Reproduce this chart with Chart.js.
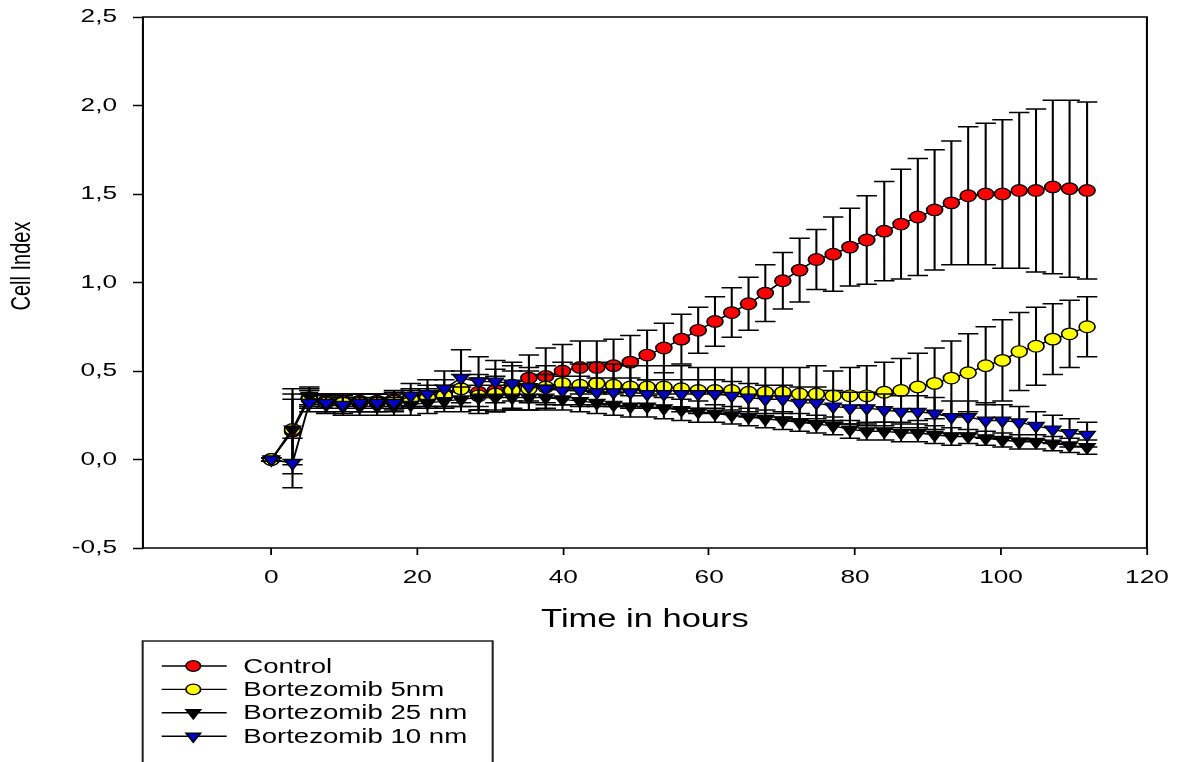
<!DOCTYPE html>
<html><head><meta charset="utf-8">
<script src="https://cdn.jsdelivr.net/npm/chart.js@4.4.1/dist/chart.umd.min.js"></script>
<style>html,body{margin:0;padding:0;background:#fff;overflow:hidden}canvas{display:block}</style>
</head><body>
<canvas id="c" width="856" height="762"></canvas>
<script>
// ---------------- data ----------------
const timeHours = [0, 2.9, 5.2, 7.5, 9.8, 12.1, 14.5, 16.8, 19.1, 21.4, 23.7, 26.0, 28.4, 30.7, 33.0, 35.3, 37.6, 39.9, 42.3, 44.6, 46.9, 49.2, 51.5, 53.8, 56.2, 58.5, 60.8, 63.1, 65.4, 67.7, 70.1, 72.4, 74.7, 77.0, 79.3, 81.6, 84.0, 86.3, 88.6, 90.9, 93.2, 95.5, 97.9, 100.2, 102.5, 104.8, 107.1, 109.4, 111.8];

const controlMean = [0.00, 0.16, 0.35, 0.33, 0.33, 0.33, 0.33, 0.34, 0.35, 0.36, 0.37, 0.40, 0.38, 0.39, 0.42, 0.46, 0.47, 0.50, 0.52, 0.52, 0.53, 0.55, 0.59, 0.63, 0.68, 0.73, 0.78, 0.83, 0.88, 0.94, 1.01, 1.07, 1.13, 1.16, 1.20, 1.24, 1.29, 1.33, 1.37, 1.41, 1.45, 1.49, 1.50, 1.50, 1.52, 1.52, 1.54, 1.53, 1.52];
const controlErr = [0.01, 0.24, 0.05, 0.04, 0.04, 0.04, 0.04, 0.05, 0.05, 0.06, 0.08, 0.10, 0.10, 0.12, 0.13, 0.13, 0.16, 0.15, 0.15, 0.15, 0.15, 0.15, 0.14, 0.14, 0.14, 0.13, 0.14, 0.14, 0.15, 0.16, 0.16, 0.18, 0.17, 0.21, 0.22, 0.25, 0.28, 0.31, 0.33, 0.34, 0.35, 0.39, 0.40, 0.42, 0.44, 0.46, 0.49, 0.50, 0.50];

const bz5Mean = [0.00, 0.17, 0.34, 0.32, 0.32, 0.32, 0.32, 0.33, 0.34, 0.35, 0.36, 0.40, 0.36, 0.37, 0.39, 0.40, 0.41, 0.43, 0.42, 0.43, 0.42, 0.41, 0.41, 0.41, 0.40, 0.39, 0.39, 0.39, 0.38, 0.38, 0.38, 0.37, 0.37, 0.36, 0.36, 0.36, 0.38, 0.39, 0.41, 0.43, 0.46, 0.49, 0.53, 0.56, 0.61, 0.64, 0.68, 0.71, 0.75];
const bz5Err = [0.01, 0.20, 0.05, 0.05, 0.05, 0.05, 0.05, 0.05, 0.05, 0.05, 0.06, 0.08, 0.10, 0.10, 0.11, 0.12, 0.12, 0.12, 0.12, 0.12, 0.12, 0.12, 0.12, 0.12, 0.13, 0.13, 0.13, 0.13, 0.14, 0.14, 0.14, 0.15, 0.16, 0.14, 0.16, 0.17, 0.17, 0.18, 0.19, 0.20, 0.21, 0.22, 0.22, 0.23, 0.22, 0.22, 0.20, 0.19, 0.17];

const bz25Mean = [0.00, 0.17, 0.36, 0.31, 0.30, 0.30, 0.30, 0.30, 0.31, 0.32, 0.33, 0.34, 0.35, 0.35, 0.35, 0.35, 0.35, 0.34, 0.33, 0.32, 0.31, 0.30, 0.30, 0.29, 0.28, 0.27, 0.26, 0.25, 0.24, 0.23, 0.22, 0.21, 0.20, 0.19, 0.17, 0.16, 0.16, 0.15, 0.15, 0.14, 0.13, 0.13, 0.12, 0.11, 0.10, 0.10, 0.09, 0.08, 0.07];
const bz25Err = [0.01, 0.17, 0.05, 0.05, 0.05, 0.05, 0.05, 0.05, 0.06, 0.06, 0.06, 0.07, 0.07, 0.07, 0.07, 0.07, 0.07, 0.06, 0.06, 0.06, 0.06, 0.06, 0.06, 0.06, 0.06, 0.06, 0.05, 0.05, 0.05, 0.05, 0.05, 0.05, 0.05, 0.05, 0.05, 0.05, 0.05, 0.05, 0.05, 0.05, 0.05, 0.04, 0.04, 0.04, 0.04, 0.04, 0.04, 0.04, 0.04];

const bz10Mean = [0.00, -0.02, 0.32, 0.32, 0.31, 0.32, 0.32, 0.32, 0.36, 0.37, 0.40, 0.46, 0.44, 0.44, 0.43, 0.41, 0.40, 0.39, 0.39, 0.38, 0.38, 0.38, 0.37, 0.37, 0.37, 0.37, 0.37, 0.36, 0.35, 0.34, 0.34, 0.32, 0.32, 0.30, 0.29, 0.29, 0.28, 0.27, 0.27, 0.26, 0.24, 0.24, 0.22, 0.22, 0.21, 0.19, 0.17, 0.15, 0.14];
const bz10Err = [0.01, 0.14, 0.05, 0.05, 0.05, 0.05, 0.05, 0.05, 0.07, 0.08, 0.10, 0.16, 0.14, 0.12, 0.10, 0.09, 0.08, 0.08, 0.08, 0.08, 0.08, 0.08, 0.08, 0.08, 0.08, 0.08, 0.08, 0.08, 0.08, 0.08, 0.08, 0.09, 0.09, 0.09, 0.09, 0.09, 0.09, 0.09, 0.09, 0.09, 0.09, 0.09, 0.10, 0.09, 0.09, 0.08, 0.08, 0.08, 0.07];

const seriesLabels = ['Control', 'Bortezomib 5nm', 'Bortezomib 25 nm', 'Bortezomib 10 nm'];
const xTickValues = [0, 20, 40, 60, 80, 100, 120];
const yTickValues = [-0.5, 0, 0.5, 1.0, 1.5, 2.0, 2.5];
const xTitle = 'Time in hours';
const yTitle = 'Cell Index';

// ---------------- layout / style ----------------
const PAGE_W = 1181, PAGE_H = 762, CHART_W = 856;
const SX = PAGE_W / CHART_W;           // horizontal stretch of the original figure
const FONT = "'Liberation Sans', Arial, Helvetica, sans-serif";

function pts(means) { return means.map((v, i) => ({ x: timeHours[i], y: v })); }

const seriesStyle = [
  { fill: '#ff0000', shape: 'circle', radius: 5.8, rot: 0, order: 3 },
  { fill: '#ffff00', shape: 'circle', radius: 5.8, rot: 0, order: 2 },
  { fill: '#000000', shape: 'triangle', radius: 6.8, rot: 180, order: 1 },
  { fill: '#0000c0', shape: 'triangle', radius: 6.8, rot: 180, order: 0 }
];
const seriesMeans = [controlMean, bz5Mean, bz25Mean, bz10Mean];
const seriesErrs = [controlErr, bz5Err, bz25Err, bz10Err];

const datasets = seriesLabels.map((lab, k) => ({
  label: lab,
  data: pts(seriesMeans[k]),
  errors: seriesErrs[k],
  showLine: true,
  borderColor: '#000',
  borderWidth: 1.4,
  tension: 0,
  pointStyle: seriesStyle[k].shape,
  pointRotation: seriesStyle[k].rot,
  pointRadius: seriesStyle[k].radius,
  pointBackgroundColor: seriesStyle[k].fill,
  pointBorderColor: '#000',
  pointBorderWidth: 1.2,
  order: seriesStyle[k].order
}));

const stretchPlugin = {
  id: 'stretch',
  beforeDraw(chart) { chart.ctx.setTransform(SX, 0, 0, 1, 0, 0); }
};

const errorBarPlugin = {
  id: 'errorBars',
  beforeDatasetDraw(chart, args) {
    const ds = chart.data.datasets[args.index];
    if (!ds.errors) return;
    const xs = chart.scales.x, ys = chart.scales.y, ctx = chart.ctx;
    const cap = 7.4;
    ctx.save();
    ctx.strokeStyle = '#000';
    ctx.lineWidth = 1.5;
    ctx.beginPath();
    ds.data.forEach((p, i) => {
      const e = ds.errors[i];
      if (!e) return;
      const px = xs.getPixelForValue(p.x);
      const y1 = ys.getPixelForValue(p.y + e), y2 = ys.getPixelForValue(p.y - e);
      ctx.moveTo(px, y1); ctx.lineTo(px, y2);
      ctx.moveTo(px - cap, y1); ctx.lineTo(px + cap, y1);
      ctx.moveTo(px - cap, y2); ctx.lineTo(px + cap, y2);
    });
    ctx.stroke();
    ctx.restore();
  }
};

const decorPlugin = {
  id: 'decor',
  afterDraw(chart) {
    const ctx = chart.ctx, a = chart.chartArea;
    ctx.save();
    // frame
    ctx.strokeStyle = '#000';
    ctx.lineWidth = 1.5;
    ctx.strokeRect(a.left, a.top, a.right - a.left, a.bottom - a.top);
    // y title
    ctx.fillStyle = '#000';
    ctx.font = '20px ' + FONT;
    ctx.textAlign = 'center';
    ctx.textBaseline = 'middle';
    ctx.save();
    ctx.translate(16.5, 266);
    ctx.rotate(-Math.PI / 2);
    ctx.fillText(yTitle, 0, 0);
    ctx.restore();
    // legend
    ctx.strokeStyle = '#222';
    ctx.lineWidth = 1.5;
    ctx.strokeRect(103.4, 641, 253.7, 200);
    ctx.font = '20px ' + FONT;
    ctx.textAlign = 'left';
    seriesLabels.forEach((lab, k) => {
      const ry = 666 + k * 23.4;
      ctx.strokeStyle = '#000';
      ctx.lineWidth = 1.4;
      ctx.beginPath(); ctx.moveTo(117.2, ry); ctx.lineTo(164.3, ry); ctx.stroke();
      ctx.fillStyle = seriesStyle[k].fill;
      ctx.strokeStyle = '#000';
      ctx.lineWidth = 1.2;
      Chart.helpers.drawPoint(ctx, {
        pointStyle: seriesStyle[k].shape,
        rotation: seriesStyle[k].rot,
        radius: seriesStyle[k].shape === 'circle' ? 5.3 : 6.2,
        borderWidth: 1.2
      }, 140.1, ry);
      ctx.fillStyle = '#000';
      ctx.fillText(lab, 176.3, ry + 1);
    });
    ctx.restore();
  }
};

const fmt = v => v.toFixed(1).replace('.', ',');
const noOverhang = s => { s.paddingTop = 0; s.paddingBottom = 0; s.paddingLeft = 0; s.paddingRight = 0; };

const config = {
  type: 'scatter',
  data: { datasets },
  options: {
    responsive: false,
    animation: false,
    devicePixelRatio: 1,
    events: [],
    layout: { padding: { left: 0, top: 17, right: 24.7, bottom: 0 } },
    plugins: { legend: { display: false }, tooltip: { enabled: false } },
    scales: {
      x: {
        type: 'linear',
        position: 'bottom',
        min: -17.6,
        max: 120,
        afterBuildTicks: s => { s.ticks = xTickValues.map(v => ({ value: v })); },
        afterFit: s => { s.height = PAGE_H - 548; noOverhang(s); },
        ticks: {
          autoSkip: false, maxRotation: 0, padding: 11.5,
          color: '#000', font: { family: FONT, size: 19 },
          callback: v => String(v)
        },
        grid: { display: true, drawOnChartArea: false, drawTicks: true, tickLength: 7, tickWidth: 1.3, tickColor: '#000' },
        border: { display: false },
        title: {
          display: true, text: xTitle, color: '#000',
          font: { family: FONT, size: 25 },
          padding: { top: 0, bottom: 127 }
        }
      },
      y: {
        type: 'linear',
        position: 'left',
        min: -0.5,
        max: 2.5,
        afterBuildTicks: s => { s.ticks = yTickValues.map(v => ({ value: v })); },
        afterFit: s => { s.width = 103.6; noOverhang(s); },
        ticks: {
          autoSkip: false, padding: 11.6,
          color: '#000', font: { family: FONT, size: 19 },
          callback: v => fmt(v)
        },
        grid: { display: true, drawOnChartArea: false, drawTicks: true, tickLength: 7.2, tickWidth: 1.5, tickColor: '#000' },
        border: { display: false }
      }
    }
  },
  plugins: [stretchPlugin, errorBarPlugin, decorPlugin]
};

const canvas = document.getElementById('c');
const chart = new Chart(canvas, config);
canvas.width = PAGE_W;
canvas.style.width = PAGE_W + 'px';
canvas.style.height = PAGE_H + 'px';
chart.draw();
</script>
</body></html>
